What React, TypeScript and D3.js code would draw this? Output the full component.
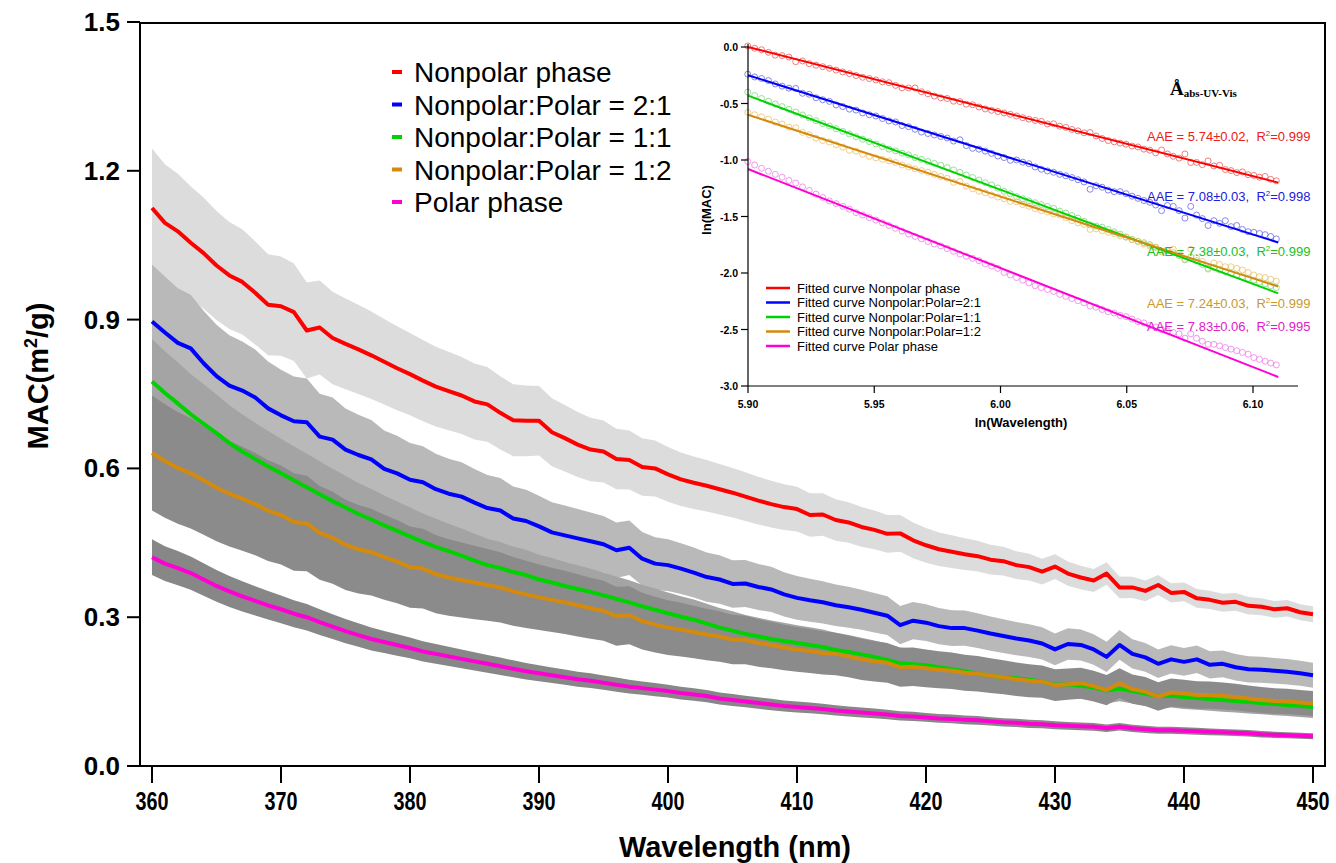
import React from "react";
import * as d3 from "d3";

// ---------- DATA ----------
const wavelengths = d3.range(360, 451, 1); // 360..450 nm
const sdWavelengths = d3.range(360, 451, 10); // 360..450 step 10

const seriesNames = [
  "Nonpolar phase",
  "Nonpolar:Polar = 2:1",
  "Nonpolar:Polar = 1:1",
  "Nonpolar:Polar = 1:2",
  "Polar phase",
];
const fitNames = [
  "Fitted curve Nonpolar phase",
  "Fitted curve Nonpolar:Polar=2:1",
  "Fitted curve Nonpolar:Polar=1:1",
  "Fitted curve Nonpolar:Polar=1:2",
  "Fitted curve Polar phase",
];

const macNonpolar = [
  1.125, 1.095, 1.078, 1.055, 1.034, 1.009, 0.989, 0.976, 0.954, 0.930,
  0.927, 0.915, 0.878, 0.884, 0.863, 0.851, 0.840, 0.828, 0.815, 0.802,
  0.790, 0.777, 0.765, 0.756, 0.747, 0.735, 0.729, 0.712, 0.697, 0.696,
  0.696, 0.673, 0.661, 0.648, 0.638, 0.634, 0.619, 0.617, 0.603, 0.600,
  0.588, 0.578, 0.571, 0.565, 0.558, 0.551, 0.543, 0.535, 0.528, 0.522,
  0.518, 0.506, 0.507, 0.496, 0.491, 0.482, 0.476, 0.468, 0.469, 0.455,
  0.445, 0.437, 0.432, 0.427, 0.423, 0.416, 0.413, 0.405, 0.401, 0.392,
  0.402, 0.388, 0.380, 0.374, 0.388, 0.360, 0.360, 0.353, 0.365, 0.349,
  0.351, 0.338, 0.335, 0.329, 0.331, 0.323, 0.321, 0.316, 0.318, 0.310,
  0.306,
];
const mac21 = [
  0.896, 0.874, 0.853, 0.842, 0.812, 0.786, 0.767, 0.757, 0.743, 0.721,
  0.707, 0.695, 0.693, 0.664, 0.658, 0.638, 0.627, 0.618, 0.599, 0.590,
  0.577, 0.572, 0.558, 0.549, 0.543, 0.531, 0.520, 0.515, 0.499, 0.494,
  0.483, 0.471, 0.465, 0.459, 0.453, 0.447, 0.435, 0.440, 0.418, 0.408,
  0.405, 0.398, 0.390, 0.381, 0.376, 0.367, 0.368, 0.361, 0.356, 0.346,
  0.339, 0.334, 0.330, 0.324, 0.320, 0.315, 0.309, 0.303, 0.284, 0.293,
  0.289, 0.282, 0.278, 0.278, 0.273, 0.267, 0.262, 0.257, 0.253, 0.247,
  0.235, 0.246, 0.244, 0.235, 0.220, 0.244, 0.226, 0.219, 0.206, 0.215,
  0.210, 0.215, 0.204, 0.206, 0.199, 0.195, 0.194, 0.192, 0.190, 0.187,
  0.183,
];
const mac11 = [
  0.775, 0.752, 0.731, 0.709, 0.690, 0.671, 0.651, 0.634, 0.619, 0.604,
  0.590, 0.576, 0.562, 0.548, 0.534, 0.521, 0.508, 0.497, 0.485, 0.474,
  0.463, 0.452, 0.442, 0.433, 0.424, 0.414, 0.405, 0.399, 0.391, 0.385,
  0.376, 0.370, 0.363, 0.357, 0.351, 0.344, 0.337, 0.330, 0.322, 0.315,
  0.308, 0.301, 0.295, 0.287, 0.279, 0.273, 0.266, 0.261, 0.256, 0.252,
  0.248, 0.244, 0.240, 0.234, 0.230, 0.225, 0.220, 0.214, 0.207, 0.205,
  0.203, 0.199, 0.195, 0.191, 0.186, 0.182, 0.179, 0.177, 0.174, 0.170,
  0.164, 0.165, 0.162, 0.158, 0.152, 0.156, 0.151, 0.146, 0.141, 0.142,
  0.139, 0.137, 0.135, 0.133, 0.131, 0.129, 0.127, 0.125, 0.123, 0.121,
  0.119,
];
const mac12 = [
  0.631, 0.615, 0.601, 0.590, 0.576, 0.561, 0.549, 0.539, 0.528, 0.515,
  0.506, 0.492, 0.489, 0.470, 0.460, 0.446, 0.437, 0.431, 0.421, 0.412,
  0.401, 0.398, 0.387, 0.380, 0.375, 0.370, 0.365, 0.360, 0.352, 0.346,
  0.340, 0.335, 0.330, 0.324, 0.318, 0.313, 0.302, 0.304, 0.292, 0.285,
  0.279, 0.275, 0.270, 0.265, 0.261, 0.255, 0.254, 0.248, 0.244, 0.239,
  0.235, 0.232, 0.228, 0.226, 0.221, 0.215, 0.211, 0.208, 0.199, 0.200,
  0.197, 0.194, 0.192, 0.188, 0.186, 0.182, 0.179, 0.175, 0.172, 0.170,
  0.163, 0.165, 0.167, 0.161, 0.153, 0.167, 0.155, 0.150, 0.140, 0.148,
  0.146, 0.143, 0.143, 0.141, 0.139, 0.136, 0.133, 0.131, 0.130, 0.128,
  0.126,
];
const macPolar = [
  0.421, 0.408, 0.399, 0.389, 0.376, 0.363, 0.352, 0.342, 0.333, 0.324,
  0.316, 0.307, 0.300, 0.290, 0.281, 0.272, 0.264, 0.256, 0.250, 0.244,
  0.238, 0.231, 0.226, 0.221, 0.216, 0.211, 0.206, 0.201, 0.196, 0.191,
  0.187, 0.183, 0.179, 0.175, 0.172, 0.168, 0.164, 0.160, 0.157, 0.154,
  0.151, 0.147, 0.144, 0.141, 0.136, 0.133, 0.130, 0.127, 0.124, 0.121,
  0.119, 0.117, 0.115, 0.112, 0.110, 0.108, 0.106, 0.104, 0.101, 0.100,
  0.098, 0.096, 0.095, 0.093, 0.092, 0.090, 0.088, 0.087, 0.085, 0.084,
  0.082, 0.081, 0.080, 0.079, 0.076, 0.079, 0.076, 0.074, 0.072, 0.072,
  0.071, 0.070, 0.069, 0.068, 0.067, 0.066, 0.064, 0.063, 0.062, 0.061,
  0.060,
];

// standard deviation envelopes, read every 10 nm
const sdNonpolar = [0.12, 0.1, 0.083, 0.07, 0.055, 0.045, 0.035, 0.025, 0.019, 0.016];
const sd21 = [0.115, 0.092, 0.074, 0.062, 0.052, 0.044, 0.037, 0.032, 0.028, 0.025];
const sd11 = [0.086, 0.07, 0.058, 0.05, 0.042, 0.036, 0.031, 0.027, 0.024, 0.022];
const sd12 = [0.116, 0.1, 0.082, 0.066, 0.055, 0.045, 0.038, 0.032, 0.028, 0.025];
const sdPolar = [0.036, 0.028, 0.021, 0.016, 0.013, 0.011, 0.009, 0.008, 0.007, 0.006];

// fitted lines in the inset (ln(MAC) at ln(λ)=5.90 and 6.11)
const fitLnStart = 5.9;
const fitLnEnd = 6.11;
const fitStartValues = [0.0, -0.25, -0.43, -0.6, -1.08];
const fitEndValues = [-1.2, -1.73, -2.18, -2.12, -2.92];
const aaeLabels = ["5.74±0.02", "7.08±0.03", "7.38±0.03", "7.24±0.03", "7.83±0.06"];
const r2Labels = ["0.999", "0.998", "0.999", "0.999", "0.995"];
const insetMinWavelength = 365;

const yTicks = [0, 0.3, 0.6, 0.9, 1.2, 1.5];
const xTicks = [360, 370, 380, 390, 400, 410, 420, 430, 440, 450];
const insetXTicks = [5.9, 5.95, 6.0, 6.05, 6.1];
const insetYTicks = [0, -0.5, -1.0, -1.5, -2.0, -2.5, -3.0];

// ---------- STYLE ----------
const lineColors = ["#ff0000", "#0000ff", "#00d200", "#d48a0c", "#ff00d4"];
const circleColors = ["#e86060", "#6a6ae6", "#7ada7a", "#eec06a", "#ee80e8"];
const textColors = ["#e82020", "#2020d8", "#20c020", "#c89a2a", "#e020c8"];
const bandColors = ["#dcdcdc", "#b9b9b9", "#a4a4a4", "#8b8b8b", "#878787"];
const FONT = "'Liberation Sans', Arial, Helvetica, sans-serif";

export default function App() {
  const W = 1336;
  const H = 863;
  const x = d3.scaleLinear().domain([360, 450]).range([152, 1313]);
  const y = d3.scaleLinear().domain([0, 1.5]).range([766, 22]);
  const ix = d3.scaleLinear().domain([5.9, 6.1]).range([748, 1253]);
  const iy = d3.scaleLinear().domain([0, -3]).range([47, 386]);

  const series = [macNonpolar, mac21, mac11, mac12, macPolar];
  const sds = [sdNonpolar, sd21, sd11, sd12, sdPolar];

  const lineGen = d3
    .line<number>()
    .x((_, i) => x(wavelengths[i]))
    .y((d) => y(d));

  const bands = series.map((s, k) => {
    const sdScale = d3.scaleLinear().domain(sdWavelengths).range(sds[k]);
    const area = d3
      .area<number>()
      .x((_, i) => x(wavelengths[i]))
      .y0((d, i) => y(d - sdScale(wavelengths[i])))
      .y1((d, i) => y(d + sdScale(wavelengths[i])));
    return area(s) || "";
  });

  const frameL = 140,
    frameR = 1325,
    frameT = 23,
    frameB = 766;

  return (
    <svg
      width={W}
      height={H}
      viewBox={`0 0 ${W} ${H}`}
      style={{ position: "absolute", left: 0, top: 0, background: "#fff" }}
      fontFamily={FONT}
    >
      <rect x={0} y={0} width={W} height={H} fill="#fff" />

      {/* bands */}
      {bands.map((d, k) => (
        <path key={"b" + k} d={d} fill={bandColors[k]} stroke="none" />
      ))}

      {/* lines */}
      {series.map((s, k) => (
        <path
          key={"l" + k}
          d={lineGen(s) || ""}
          fill="none"
          stroke={lineColors[k]}
          strokeWidth={4}
          strokeLinejoin="round"
        />
      ))}

      {/* frame */}
      <rect
        x={frameL}
        y={frameT}
        width={frameR - frameL}
        height={frameB - frameT}
        fill="none"
        stroke="#000"
        strokeWidth={2}
      />

      {/* y axis ticks */}
      {yTicks.map((t) => (
        <g key={"yt" + t}>
          <line x1={127} x2={frameL} y1={y(t)} y2={y(t)} stroke="#000" strokeWidth={2} />
          <text
            x={120}
            y={y(t) + 9}
            textAnchor="end"
            fontSize={26}
            fontWeight="bold"
          >
            {t.toFixed(1)}
          </text>
        </g>
      ))}

      {/* x axis ticks */}
      {xTicks.map((t) => (
        <g key={"xt" + t}>
          <line x1={x(t)} x2={x(t)} y1={frameB} y2={783} stroke="#000" strokeWidth={2} />
          <text
            x={x(t)}
            y={810}
            textAnchor="middle"
            fontSize={26}
            fontWeight="bold"
            textLength={33}
            lengthAdjust="spacingAndGlyphs"
          >
            {t}
          </text>
        </g>
      ))}

      {/* axis titles */}
      <text
        x={735}
        y={857}
        textAnchor="middle"
        fontSize={30}
        fontWeight="bold"
        textLength={232}
        lengthAdjust="spacingAndGlyphs"
      >
        Wavelength (nm)
      </text>
      <text
        transform="translate(48,376) rotate(-90)"
        textAnchor="middle"
        fontSize={29}
        fontWeight="bold"
      >
        MAC(m<tspan fontSize={18} dy={-11}>2</tspan>
        <tspan dy={11}>/g)</tspan>
      </text>

      {/* main legend */}
      {seriesNames.map((n, k) => {
        const cy = 72 + k * 32.5;
        return (
          <g key={"lg" + k}>
            <rect x={392} y={cy - 2} width={10} height={4} fill={lineColors[k]} />
            <text x={414} y={cy + 10} fontSize={28}>
              {n}
            </text>
          </g>
        );
      })}

      {/* ---------- inset ---------- */}
      <g>
        {/* circles */}
        {series.map((s, k) => (
          <g key={"ic" + k}>
            {s.map((v, i) =>
              wavelengths[i] >= insetMinWavelength ? (
                <circle
                  key={i}
                  cx={ix(Math.log(wavelengths[i]))}
                  cy={iy(Math.log(v))}
                  r={3}
                  fill="none"
                  stroke={circleColors[k]}
                  strokeWidth={1}
                  opacity={0.8}
                />
              ) : null
            )}
          </g>
        ))}
        {/* fitted lines */}
        {fitStartValues.map((v0, k) => (
          <line
            key={"fl" + k}
            x1={ix(fitLnStart)}
            y1={iy(v0)}
            x2={ix(fitLnEnd)}
            y2={iy(fitEndValues[k])}
            stroke={lineColors[k]}
            strokeWidth={2}
          />
        ))}

        {/* inset axes */}
        <line x1={748} x2={748} y1={44} y2={386} stroke="#000" strokeWidth={1.2} />
        <line x1={748} x2={1298} y1={386} y2={386} stroke="#000" strokeWidth={1.2} />
        {insetYTicks.map((t) => (
          <g key={"iyt" + t}>
            <line x1={741} x2={748} y1={iy(t)} y2={iy(t)} stroke="#000" strokeWidth={1.2} />
            <text
              x={738}
              y={iy(t) + 4}
              textAnchor="end"
              fontSize={10.5}
              fontWeight="bold"
            >
              {t.toFixed(1)}
            </text>
          </g>
        ))}
        {insetXTicks.map((t) => (
          <g key={"ixt" + t}>
            <line x1={ix(t)} x2={ix(t)} y1={386} y2={393} stroke="#000" strokeWidth={1.2} />
            <text
              x={ix(t)}
              y={408}
              textAnchor="middle"
              fontSize={10.5}
              fontWeight="bold"
            >
              {t.toFixed(2)}
            </text>
          </g>
        ))}
        <text x={1021} y={427} textAnchor="middle" fontSize={13} fontWeight="bold">
          ln(Wavelength)
        </text>
        <text
          transform="translate(711,210) rotate(-90)"
          textAnchor="middle"
          fontSize={13}
          fontWeight="bold"
        >
          ln(MAC)
        </text>

        {/* title */}
        <text x={1170} y={95} fontFamily="'Liberation Serif', 'Times New Roman', serif" fontWeight="bold">
          <tspan fontSize={19}>Å</tspan>
          <tspan fontSize={11} dy={2}>abs-UV-Vis</tspan>
        </text>

        {/* AAE annotations */}
        {aaeLabels.map((a, k) => {
          const ys = [141, 201, 256, 308, 331];
          return (
            <text key={"aae" + k} x={1147} y={ys[k]} fontSize={13} fill={textColors[k]}>
              {`AAE = ${a},\u00a0\u00a0R`}
              <tspan fontSize={8} dy={-5}>2</tspan>
              <tspan dy={5}>{`=${r2Labels[k]}`}</tspan>
            </text>
          );
        })}

        {/* inset legend */}
        {fitNames.map((n, k) => {
          const cy = 288 + k * 14.5;
          return (
            <g key={"il" + k}>
              <line x1={766} x2={790} y1={cy} y2={cy} stroke={lineColors[k]} strokeWidth={2.5} />
              <text x={797} y={cy + 4.5} fontSize={13}>
                {n}
              </text>
            </g>
          );
        })}
      </g>
    </svg>
  );
}
